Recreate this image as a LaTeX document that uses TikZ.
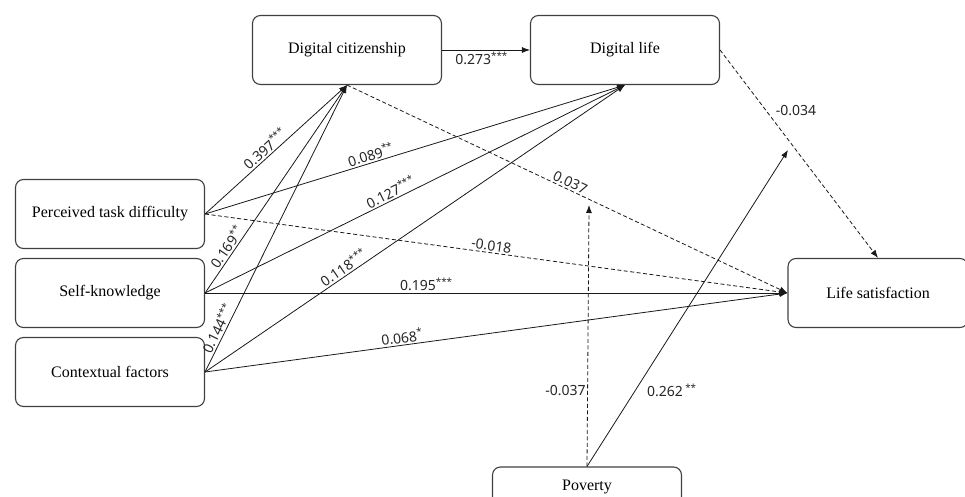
\documentclass[tikz,border=0pt]{standalone}
\usepackage{fontspec}
\setmainfont{Liberation Serif}
\newfontfamily\coeffont{Noto Sans}
\usetikzlibrary{arrows.meta}

\tikzset{
  var/.style={draw=black!75, line width=1.1pt, rounded corners=8pt, minimum width=189pt,
    minimum height=69pt, inner sep=0pt, font=\fontsize{16}{18}\selectfont},
  sig/.style={draw=black!90, line width=0.8pt, -{Latex[length=8pt,width=6pt]}},
  nonsig/.style={sig, dash pattern=on 4pt off 2.5pt},
  coef/.style={font=\coeffont\fontsize{14}{16}\selectfont, text=black!85, inner sep=1.5pt},
}

\begin{document}
\begin{tikzpicture}[x=1pt,y=-1pt]
\useasboundingbox (0,0) rectangle (965,497);

% Variables
\node[var] (dc) at (347,50) {Digital citizenship};
\node[var] (dl) at (625,50) {Digital life};
\node[var] (ptd) at (110,214) {Perceived task difficulty};
\node[var] (sk) at (110,293) {Self-knowledge};
\node[var] (cf) at (110,372) {Contextual factors};
\node[var, minimum width=180pt] (ls) at (878,293) {Life satisfaction};
\node[var, minimum height=40pt] (pov) at (587,487) {Poverty};

% Points on the paths that poverty moderates
\coordinate (mod1) at (589,205);
\coordinate (mod2) at (788,150);

% Digital citizenship -> digital life
\draw[sig] (dc.east) -- node[coef, below, pos=.45] {0.273\textsuperscript{***}} (dl.west);

% Predictors -> digital citizenship
\draw[sig] (ptd.east) -- node[coef, sloped, above, pos=.46] {0.397\textsuperscript{***}} (dc.south);
\draw[sig] (sk.east) -- node[coef, sloped, above, pos=.2] {0.169\textsuperscript{**}} (dc.south);
\draw[sig] (cf.east) -- node[coef, sloped, above, pos=.14] {0.144\textsuperscript{***}} (dc.south);

% Predictors -> digital life
\draw[sig] (ptd.east) -- node[coef, sloped, above, pos=.4] {0.089\textsuperscript{**}} (dl.south);
\draw[sig] (sk.east) -- node[coef, sloped, above, pos=.45] {0.127\textsuperscript{***}} (dl.south);
\draw[sig] (cf.east) -- node[coef, sloped, above, pos=.34] {0.118\textsuperscript{***}} (dl.south);

% Paths to life satisfaction
\draw[nonsig] (dc.south) -- node[coef, sloped, above, pos=.5] {0.037} (ls.west);
\draw[nonsig] (dl.east) -- node[coef, right, pos=.29, xshift=8pt] {-0.034} (ls.north);
\draw[nonsig] (ptd.east) -- node[coef, sloped, above, pos=.49] {-0.018} (ls.west);
\draw[sig] (sk.east) -- node[coef, above, pos=.38] {0.195\textsuperscript{***}} (ls.west);
\draw[sig] (cf.east) -- node[coef, sloped, above, pos=.34] {0.068\textsuperscript{*}} (ls.west);

% Poverty as moderator
\draw[nonsig] (pov.north) -- node[coef, left, pos=.29] {-0.037} (mod1);
\draw[sig] (pov.north) -- node[coef, right, pos=.24, xshift=10pt] {0.262\,\textsuperscript{**}} (mod2);

\end{tikzpicture}
\end{document}
